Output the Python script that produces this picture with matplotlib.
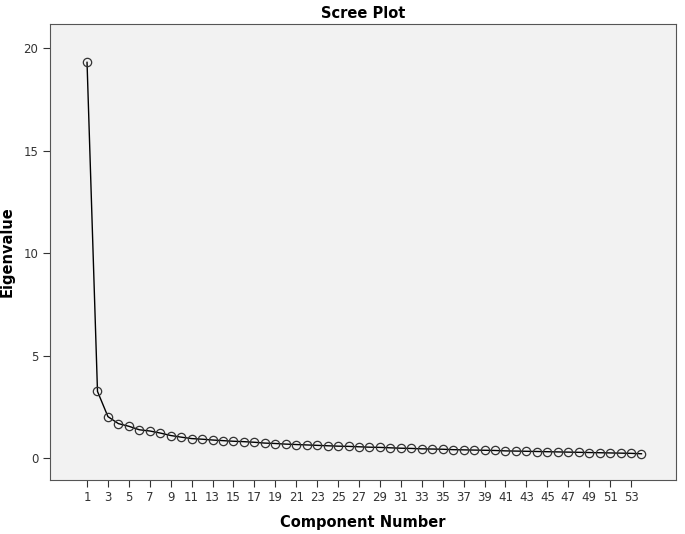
import matplotlib
matplotlib.use("Agg")
import matplotlib.pyplot as plt

components = list(range(1, 55))
eigenvalues = [19.3, 3.25, 2.02, 1.68, 1.55, 1.38, 1.32, 1.22, 1.10, 1.02,
               0.95, 0.92, 0.88, 0.85, 0.82, 0.80, 0.77, 0.73, 0.71, 0.68,
               0.66, 0.64, 0.62, 0.60, 0.58, 0.57, 0.55, 0.53, 0.52, 0.50,
               0.48, 0.47, 0.45, 0.44, 0.43, 0.41, 0.40, 0.39, 0.38, 0.37,
               0.35, 0.34, 0.33, 0.32, 0.31, 0.30, 0.29, 0.28, 0.27, 0.26,
               0.25, 0.24, 0.23, 0.21]
xticks = list(range(1, 54, 2))
yticks = [0, 5, 10, 15, 20]

fig = plt.figure(figsize=(6.85, 5.34), dpi=100)
ax = fig.add_axes([50/685, 54/534, 626/685, 456/534])
ax.set_facecolor("#f2f2f2")
for s in ax.spines.values():
    s.set_color("#555555")
ax.plot(components, eigenvalues, color="black", lw=1, marker="o", ms=6,
        mfc="none", mec="#333333", mew=0.9)
ax.set_xlim(-2.54, 57.3)
ax.set_ylim(-1.07, 21.17)
ax.set_xticks(xticks)
ax.set_yticks(yticks)
ax.tick_params(labelsize=8.5, length=5, colors="#333333")
ax.tick_params(axis="x", pad=3)
ax.set_xlabel("Component Number", fontsize=10.5, fontweight="bold", labelpad=8)
ax.set_ylabel("Eigenvalue", fontsize=10.5, fontweight="bold", labelpad=6)
ax.set_title("Scree Plot", fontsize=10.5, fontweight="bold", pad=4)
fig.savefig("out.png", dpi=100)
